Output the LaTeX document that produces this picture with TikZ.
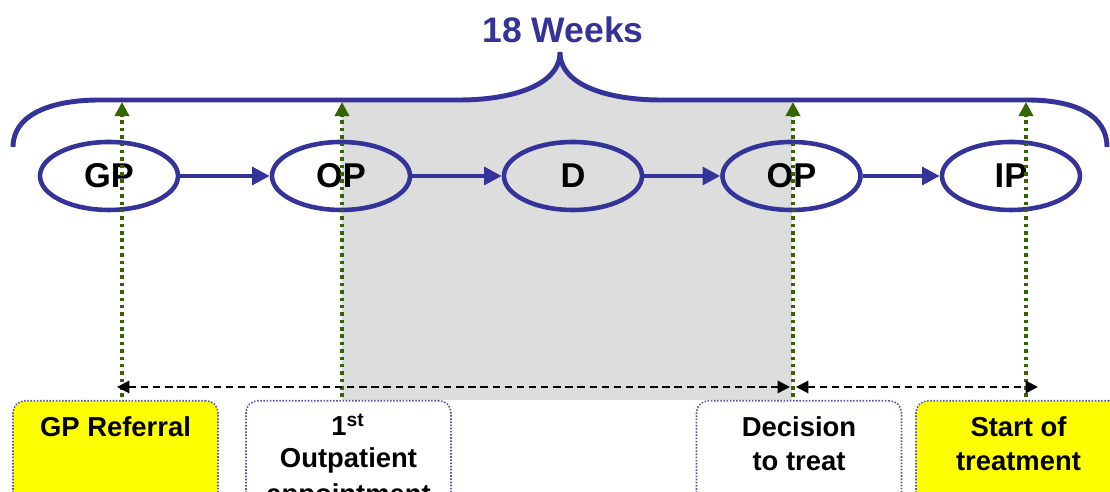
\documentclass[tikz,border=0pt]{standalone}
\usepackage{fontspec}
\setmainfont{Liberation Sans}
\usetikzlibrary{arrows.meta,shapes.geometric}
\definecolor{navy}{HTML}{333399}
\definecolor{dgreen}{HTML}{336600}
\definecolor{lgray}{HTML}{DDDDDD}
\definecolor{boxblue}{HTML}{5555AA}
\definecolor{hiyellow}{HTML}{FFFF00}
\begin{document}
\begin{tikzpicture}[
  stage/.style={ellipse, draw=navy, line width=1.3pt, minimum width=1.38cm, minimum height=0.68cm, inner sep=0pt, font=\fontsize{9.8}{11}\selectfont\bfseries},
  flow/.style={draw=navy, line width=1.2pt, -{Triangle[length=5pt,width=5pt]}},
  marker/.style={draw=dgreen, line width=1pt, dash pattern=on 1pt off 1.1pt, -{Triangle[length=4pt,width=4pt]}},
  span/.style={draw=black, line width=0.6pt, dash pattern=on 2.1pt off 1.35pt, {Triangle[length=3.5pt,width=3.5pt]}-{Triangle[length=3.5pt,width=3.5pt]}},
  event/.style={draw=boxblue, line width=0.45pt, dash pattern=on 0.45pt off 0.45pt, rounded corners=0.12cm, minimum width=2.05cm, minimum height=1.3cm, anchor=north, inner sep=0pt},
  evtext/.style={anchor=base, inner sep=0pt, font=\fontsize{7.8}{9}\selectfont\bfseries},
]
\useasboundingbox (0,0) rectangle (11.10,-4.92);
\clip (0,0) rectangle (11.10,-4.92);

% grey waiting region, top follows the brace
\fill[lgray] (3.42,-4.00) -- (3.42,-1.00) -- (4.60,-1.00)
  .. controls (5.05,-1.00) and (5.60,-0.88) .. (5.60,-0.52)
  .. controls (5.60,-0.88) and (6.15,-1.00) .. (6.60,-1.00)
  -- (7.92,-1.00) -- (7.92,-4.00) -- cycle;

% event boxes
\node[event, fill=hiyellow] (b1) at (1.155,-4.00) {};
\node[event, fill=white] (b2) at (3.485,-4.00) {};
\node[event, fill=white] (b3) at (7.99,-4.00) {};
\node[event, fill=hiyellow] (b4) at (10.185,-4.00) {};

\node[evtext] (t1) at (1.155,-4.37) {GP Referral};
\node[evtext] (t2a) at (3.485,-4.36) {1\textsuperscript{st}};
\node[evtext] (t2b) at (3.485,-4.68) {Outpatient};
\node[evtext] (t2c) at (3.485,-5.04) {appointment};
\node[evtext] (t3a) at (7.99,-4.37) {Decision};
\node[evtext] (t3b) at (7.99,-4.71) {to treat};
\node[evtext] (t4a) at (10.185,-4.37) {Start of};
\node[evtext] (t4b) at (10.185,-4.71) {treatment};

% brace
\draw[navy, line width=1.4pt] (0.13,-1.47) .. controls (0.13,-1.15) and (0.50,-1.00) .. (1.00,-1.00)
  -- (4.60,-1.00)
  .. controls (5.05,-1.00) and (5.60,-0.88) .. (5.60,-0.52)
  .. controls (5.60,-0.88) and (6.15,-1.00) .. (6.60,-1.00)
  -- (10.27,-1.00)
  .. controls (10.75,-1.00) and (11.07,-1.15) .. (11.07,-1.47);
\node[navy, font=\fontsize{10.1}{12}\selectfont\bfseries] (weeks) at (5.63,-0.30) {18 Weeks};

% stages
\node[stage] (gp) at (1.09,-1.76) {GP};
\node[stage] (op1) at (3.41,-1.76) {OP};
\node[stage] (d) at (5.73,-1.76) {D};
\node[stage] (op2) at (7.915,-1.76) {OP};
\node[stage] (ip) at (10.11,-1.76) {IP};

\draw[flow] (gp) -- (op1);
\draw[flow] (op1) -- (d);
\draw[flow] (d) -- (op2);
\draw[flow] (op2) -- (ip);

% milestone markers
\coordinate (m1b) at (1.22,-3.97); \coordinate (m1t) at (1.22,-1.02);
\coordinate (m2b) at (3.42,-3.97); \coordinate (m2t) at (3.42,-1.02);
\coordinate (m3b) at (7.93,-3.97); \coordinate (m3t) at (7.93,-1.02);
\coordinate (m4b) at (10.26,-3.97); \coordinate (m4t) at (10.26,-1.02);
\draw[marker] (m1b) -- (m1t);
\draw[marker] (m2b) -- (m2t);
\draw[marker] (m3b) -- (m3t);
\draw[marker] (m4b) -- (m4t);

% spans
\coordinate (s1) at (1.17,-3.87);
\coordinate (s2) at (7.90,-3.87);
\coordinate (s3) at (7.96,-3.87);
\coordinate (s4) at (10.38,-3.87);
\draw[span] (s1) -- (s2);
\draw[span] (s3) -- (s4);
\end{tikzpicture}
\end{document}
